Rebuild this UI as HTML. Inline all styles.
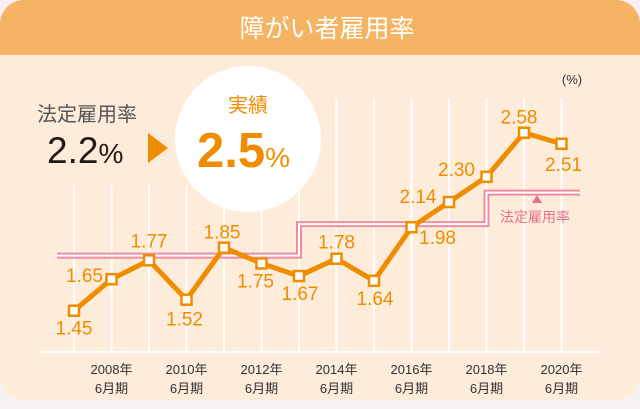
<!DOCTYPE html>
<html><head><meta charset="utf-8"><style>
body{margin:0;width:640px;height:404px;background:#f8f1f1;overflow:hidden;font-family:"Liberation Sans","Noto Sans CJK JP",sans-serif}
</style></head><body>
<svg width="640" height="404" viewBox="0 0 640 404">
<rect x="0" y="0" width="640" height="400" rx="24" fill="#fdecd9"/>
<path d="M0 24 A24 24 0 0 1 24 0 H616 A24 24 0 0 1 640 24 V55 H0 Z" fill="#f5b463"/>
<text x="327" y="37" text-anchor="middle" font-size="25" fill="#fff">障がい者雇用率</text>
<g id="grid"></g>
<line x1="40" y1="352" x2="601" y2="352" stroke="#fff" stroke-width="2"/>
<ellipse cx="248" cy="139" rx="73" ry="73" fill="#fff"/>
<text x="37" y="121" font-size="20" fill="#555">法定雇用率</text>
<text x="47" y="163" font-size="37" fill="#231815">2.2<tspan font-size="28">%</tspan></text>
<polygon points="148,133 168,148 148,163" fill="#f08c00"/>
<text x="248" y="112" text-anchor="middle" font-size="20" fill="#f08c00">実績</text>
<text x="197" y="167" font-size="49" font-weight="bold" fill="#f08c00">2.5<tspan font-size="28" font-weight="normal">%</tspan></text>
<text x="572" y="84" text-anchor="middle" font-size="13" fill="#333">(%)</text>
<g id="legal"></g>
<polygon points="537,195 532,203 542,203" fill="#e8708a"/>
<text x="535" y="222" text-anchor="middle" font-size="14" fill="#e8708a">法定雇用率</text>
<g id="series"></g>
<g id="xlabels"></g>
</svg>
<script>
const years=[2007,2008,2009,2010,2011,2012,2013,2014,2015,2016,2017,2018,2019,2020];
const values=[1.45,1.65,1.77,1.52,1.85,1.75,1.67,1.78,1.64,1.98,2.14,2.30,2.58,2.51];
const valueLabels=["1.45","1.65","1.77","1.52","1.85","1.75","1.67","1.78","1.64","1.98","2.14","2.30","2.58","2.51"];
const legalRates=[1.8,1.8,1.8,1.8,1.8,1.8,2.0,2.0,2.0,2.0,2.0,2.2,2.2,2.2];
const tickYears=[2008,2010,2012,2014,2016,2018,2020];
// label placement offsets (layout, not data): label centre relative to marker
const lblDx=[0,-27,0,-2,-2,-6,1,0,1,26,-31,-30,-5,2];
const lblDy=[17,-4,-20,19,-16,17,17,-17,17,10,-6,-8,-16,20];
const NS="http://www.w3.org/2000/svg";
function X(yr){return 74+(yr-2007)*37.5;}
function Y(v){return 310.7-(v-1.45)*157.5;}
function mk(tag,attrs,parent){const e=document.createElementNS(NS,tag);for(const k in attrs)e.setAttribute(k,attrs[k]);parent.appendChild(e);return e;}
const grid=document.getElementById('grid');
years.forEach((yr,i)=>{const l=mk('line',{x1:X(yr),x2:X(yr),y1:i<4?185:98,y2:352,stroke:'#fff','stroke-width':2},grid);

});
const lg=document.getElementById('legal');
let d="M57 "+Y(legalRates[0]);
for(let i=1;i<years.length;i++){if(legalRates[i]!==legalRates[i-1]){d+=" H"+X(years[i])+" V"+Y(legalRates[i]);}}
d+=" H580";
const p1=mk('path',{d:d,fill:'none',stroke:'#f08ca2','stroke-width':6},lg);


const p2=mk('path',{d:d,fill:'none',stroke:'#fff','stroke-width':2},lg);


const sg=document.getElementById('series');
const pts=years.map((yr,i)=>X(yr)+","+Y(values[i])).join(" ");
const pl=mk('polyline',{points:pts,fill:'none',stroke:'#f08c00','stroke-width':5,'stroke-linejoin':'miter'},sg);


years.forEach((yr,i)=>{
const r=mk('rect',{x:X(yr)-5,y:Y(values[i])-5,width:10,height:10,fill:'#fff',stroke:'#f08c00','stroke-width':2.5},sg);


const t=mk('text',{x:X(yr)+lblDx[i],y:Y(values[i])+lblDy[i]+7,'text-anchor':'middle','font-size':19,fill:'#f08c00'},sg);
t.textContent=valueLabels[i];

});
const xl=document.getElementById('xlabels');
tickYears.forEach(yr=>{
const t=mk('text',{x:X(yr),y:374,'text-anchor':'middle','font-size':13,fill:'#333'},xl);
t.textContent=yr+"年";


const t2=mk('text',{x:X(yr),y:393,'text-anchor':'middle','font-size':13,fill:'#333'},xl);
t2.textContent="6月期";

});
</script>
</body></html>
